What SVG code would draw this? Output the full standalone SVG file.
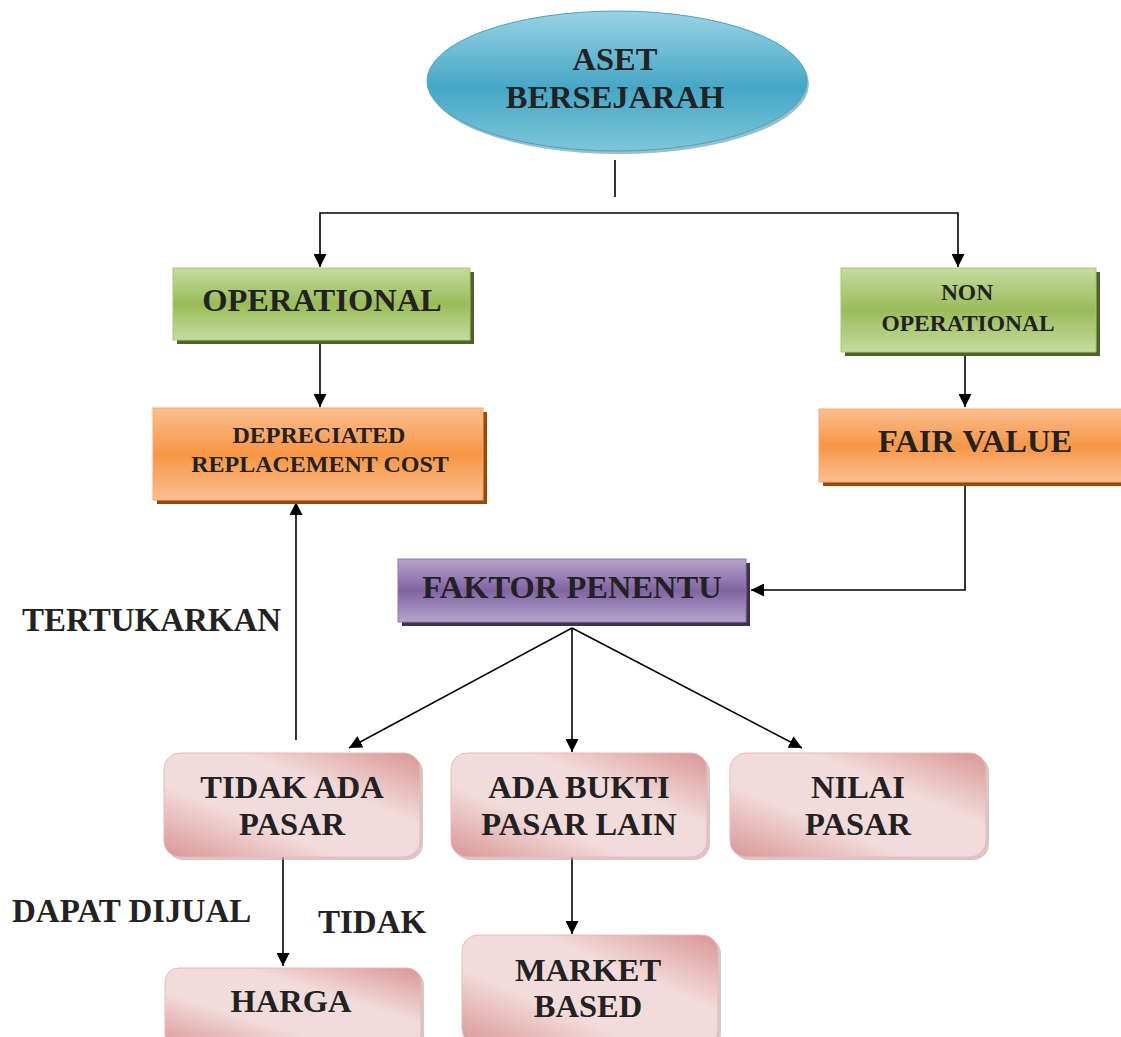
<svg xmlns="http://www.w3.org/2000/svg" width="1121" height="1037" viewBox="0 0 1121 1037">
<defs>
  <linearGradient id="gBlue" x1="0" y1="0" x2="0" y2="1">
    <stop offset="0" stop-color="#9ad3e3"/>
    <stop offset="0.55" stop-color="#45a7c6"/>
    <stop offset="1" stop-color="#7ec6da"/>
  </linearGradient>
  <linearGradient id="gGreen" x1="0" y1="0" x2="0" y2="1">
    <stop offset="0" stop-color="#c4dca1"/>
    <stop offset="0.5" stop-color="#9bbb59"/>
    <stop offset="1" stop-color="#c4dca1"/>
  </linearGradient>
  <linearGradient id="gOrange" x1="0" y1="0" x2="0" y2="1">
    <stop offset="0" stop-color="#fbbf90"/>
    <stop offset="0.5" stop-color="#f79646"/>
    <stop offset="1" stop-color="#fbbf90"/>
  </linearGradient>
  <linearGradient id="gPurple" x1="0" y1="0" x2="0" y2="1">
    <stop offset="0" stop-color="#b6a4cb"/>
    <stop offset="0.5" stop-color="#8064a2"/>
    <stop offset="1" stop-color="#b6a4cb"/>
  </linearGradient>
  <linearGradient id="gPink" x1="0" y1="1" x2="1" y2="0">
    <stop offset="0" stop-color="#d99694"/>
    <stop offset="0.35" stop-color="#f2dcdb"/>
    <stop offset="0.65" stop-color="#f2dcdb"/>
    <stop offset="1" stop-color="#d99694"/>
  </linearGradient>
  <marker id="arr" viewBox="0 0 12 12" refX="12" refY="6" markerWidth="13" markerHeight="13" markerUnits="userSpaceOnUse" orient="auto">
    <path d="M0,0 L12,6 L0,12 z" fill="#000"/>
  </marker>
  <style>
    .t { font-family: "Liberation Serif", "Times New Roman", serif; font-weight: bold; fill: #222; text-anchor: middle; }
    .big { font-size: 32.5px; }
    .mid { font-size: 24px; }
    .lbl { font-family: "Liberation Serif", "Times New Roman", serif; font-weight: bold; fill: #222; font-size: 33px; }
    .c { fill: none; stroke: #000; stroke-width: 1.6; }
    .shG { fill: #4f6228; }
    .shO { fill: #984807; }
    .shP { fill: #3f3151; }
    .shK { fill: #bfa0a0; opacity: 0.6; }
  </style>
</defs>
<rect width="1121" height="1037" fill="#fff"/>

<g id="connectors">
  <line class="c" x1="615" y1="160" x2="615" y2="197"/>
  <polyline class="c" points="615,213 320,213 320,267" marker-end="url(#arr)"/>
  <polyline class="c" points="615,213 958,213 958,267" marker-end="url(#arr)"/>
  <line class="c" x1="320" y1="343" x2="320" y2="407" marker-end="url(#arr)"/>
  <line class="c" x1="965" y1="355" x2="965" y2="407" marker-end="url(#arr)"/>
  <polyline class="c" points="965,485 965,590 751,590" marker-end="url(#arr)"/>
  <line class="c" x1="572" y1="628" x2="349" y2="748" marker-end="url(#arr)"/>
  <line class="c" x1="572" y1="628" x2="572" y2="752" marker-end="url(#arr)"/>
  <line class="c" x1="572" y1="628" x2="802" y2="748" marker-end="url(#arr)"/>
  <line class="c" x1="296" y1="740" x2="296" y2="502" marker-end="url(#arr)"/>
  <line class="c" x1="283" y1="857" x2="283" y2="966" marker-end="url(#arr)"/>
  <line class="c" x1="572" y1="857" x2="572" y2="934" marker-end="url(#arr)"/>
</g>

<g id="aset-bersejarah">
  <ellipse cx="619" cy="84" rx="190" ry="70" fill="#2f7f99" opacity="0.5"/>
  <ellipse cx="617" cy="81" rx="190" ry="70" fill="url(#gBlue)" stroke="#4aa3bf" stroke-width="1"/>
  <text class="t big" x="615" y="70">ASET</text>
  <text class="t big" x="615" y="108">BERSEJARAH</text>
</g>

<g id="operational">
  <rect class="shG" x="177" y="272" width="297" height="72"/>
  <rect x="173" y="268" width="297" height="72" fill="url(#gGreen)" stroke="#a9c771" stroke-width="1"/>
  <text class="t big" x="322" y="311">OPERATIONAL</text>
</g>

<g id="non-operational">
  <rect class="shG" x="845" y="272" width="255" height="84"/>
  <rect x="841" y="268" width="255" height="84" fill="url(#gGreen)" stroke="#a9c771" stroke-width="1"/>
  <text class="t" font-size="23.5" x="967" y="300">NON</text>
  <text class="t" font-size="23.5" x="968" y="331">OPERATIONAL</text>
</g>

<g id="depreciated-replacement-cost">
  <rect class="shO" x="157" y="412" width="330" height="92"/>
  <rect x="153" y="408" width="330" height="92" fill="url(#gOrange)" stroke="#f9a870" stroke-width="1"/>
  <text class="t mid" x="319" y="443">DEPRECIATED</text>
  <text class="t mid" x="320" y="472">REPLACEMENT COST</text>
</g>

<g id="fair-value">
  <rect class="shO" x="823" y="413" width="302" height="73"/>
  <rect x="819" y="409" width="306" height="73" fill="url(#gOrange)" stroke="#f9a870" stroke-width="1"/>
  <text class="t big" x="975" y="452">FAIR VALUE</text>
</g>

<g id="faktor-penentu">
  <rect class="shP" x="402" y="563" width="348" height="63"/>
  <rect x="398" y="559" width="348" height="63" fill="url(#gPurple)" stroke="#8e78b0" stroke-width="1"/>
  <text class="t big" x="572" y="598">FAKTOR PENENTU</text>
</g>

<g id="tidak-ada-pasar">
  <rect class="shK" x="167" y="756" width="256" height="104" rx="16"/>
  <rect x="164" y="753" width="256" height="104" rx="16" fill="url(#gPink)" stroke="#e6b9b8" stroke-width="1"/>
  <text class="t big" x="292" y="798">TIDAK ADA</text>
  <text class="t big" x="292" y="835">PASAR</text>
</g>

<g id="ada-bukti-pasar-lain">
  <rect class="shK" x="454" y="756" width="256" height="104" rx="16"/>
  <rect x="451" y="753" width="256" height="104" rx="16" fill="url(#gPink)" stroke="#e6b9b8" stroke-width="1"/>
  <text class="t big" x="579" y="798">ADA BUKTI</text>
  <text class="t big" x="579" y="835">PASAR LAIN</text>
</g>

<g id="nilai-pasar">
  <rect class="shK" x="733" y="756" width="256" height="104" rx="16"/>
  <rect x="730" y="753" width="256" height="104" rx="16" fill="url(#gPink)" stroke="#e6b9b8" stroke-width="1"/>
  <text class="t big" x="858" y="798">NILAI</text>
  <text class="t big" x="858" y="835">PASAR</text>
</g>

<g id="harga">
  <rect class="shK" x="168" y="971" width="256" height="80" rx="14"/>
  <rect x="165" y="968" width="256" height="80" rx="14" fill="url(#gPink)" stroke="#e6b9b8" stroke-width="1"/>
  <text class="t big" x="291" y="1012">HARGA</text>
</g>

<g id="market-based">
  <rect class="shK" x="465" y="938" width="256" height="110" rx="16"/>
  <rect x="462" y="935" width="256" height="110" rx="16" fill="url(#gPink)" stroke="#e6b9b8" stroke-width="1"/>
  <text class="t big" x="588" y="981">MARKET</text>
  <text class="t big" x="588" y="1017">BASED</text>
</g>

<g id="labels">
  <text class="lbl" x="22" y="631">TERTUKARKAN</text>
  <text class="lbl" x="12" y="922">DAPAT DIJUAL</text>
  <text class="lbl" x="318" y="933" font-size="32">TIDAK</text>
</g>
</svg>
